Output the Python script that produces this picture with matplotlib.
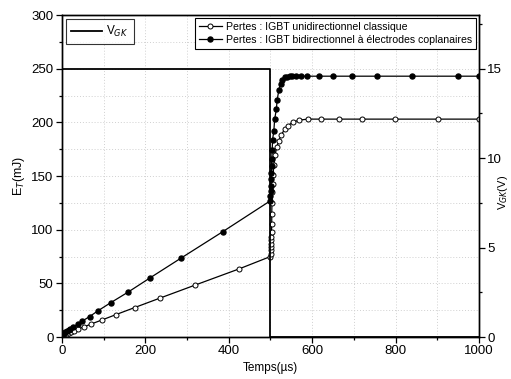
import matplotlib.pyplot as plt
from matplotlib.ticker import MultipleLocator

plt.rcParams['font.family'] = ['Liberation Sans', 'DejaVu Sans']

# gate voltage V_GK (V)
t_gk = [0, 0, 500, 500, 1000]
v_gk = [0, 15, 15, 0, 0]

# losses, classic unidirectional IGBT (open circles)
t_uni = [0, 2, 5, 8, 12, 16, 21, 28, 38, 52, 70, 96, 129, 174, 236, 318, 425, 500,
         500.5, 501, 501, 501.5, 502, 502, 502.5, 503, 503, 503.5, 504, 505, 506, 508,
         511, 515, 520, 526, 534, 542, 553, 568, 589, 621, 664, 720, 798, 901, 1000]
e_uni = [0, 1, 1.8, 2.5, 3.2, 4, 4.7, 5.9, 7.5, 9.3, 12.1, 15.9, 20.8, 27.4, 36.4, 48.2, 63.5, 75,
         77.8, 81, 84, 87, 90, 93.3, 98, 105.7, 115, 124.4, 135, 143, 151, 160,
         169.5, 177, 183, 188.5, 193.5, 197, 200, 202, 203, 203, 203, 203, 203, 203, 203]

# losses, bidirectional IGBT with coplanar electrodes (filled circles)
t_bi = [0, 1, 3, 5, 8, 12, 16, 20, 27, 38, 49, 66, 87, 117, 158, 212, 285, 385, 500,
        500, 500.5, 501, 501.5, 502, 502.5, 503, 504, 505, 508, 510, 514, 516, 520,
        524, 528, 534, 540, 546, 552, 560, 572, 588, 616, 650, 695, 756, 840, 950, 1000]
e_bi = [0, 1.5, 2.5, 3.5, 4.5, 5.8, 6.8, 7.8, 9.6, 11.8, 14.9, 19, 24.6, 32, 41.7, 55.3, 73.4, 98, 127,
        131, 136, 141, 147, 153, 159, 166, 174, 184, 192, 203, 212, 221, 230,
        236, 239.5, 242, 242.5, 243, 243, 243, 243, 243, 243, 243, 243, 243, 243, 243, 243]

fig = plt.figure(figsize=(5.11, 3.79), dpi=100)
ax = fig.add_axes([0.1213, 0.1108, 0.8161, 0.8496])
ax2 = ax.twinx()

ax.plot(t_uni, e_uni, color='black', lw=0.9, marker='o', ms=3.6, mfc='white', mec='black', mew=0.7,
        label='Pertes : IGBT unidirectionnel classique')
ax.plot(t_bi, e_bi, color='black', lw=0.9, marker='o', ms=3.6, mfc='black', mec='black',
        label='Pertes : IGBT bidirectionnel à électrodes coplanaires')
ax2.plot(t_gk, v_gk, color='black', lw=1.3, label='V$_{GK}$')

ax.set_xlim(0, 1000)
ax.set_ylim(0, 300)
ax2.set_ylim(0, 18)

ax.xaxis.set_major_locator(MultipleLocator(200))
ax.xaxis.set_minor_locator(MultipleLocator(100))
ax.yaxis.set_major_locator(MultipleLocator(50))
ax.yaxis.set_minor_locator(MultipleLocator(25))
ax2.yaxis.set_major_locator(MultipleLocator(5))
ax2.yaxis.set_minor_locator(MultipleLocator(2.5))

ax.grid(which='both', color='#d0d0d0', ls=(0, (1, 2)), lw=0.7)
ax.set_axisbelow(True)

for a in (ax, ax2):
    a.tick_params(which='both', direction='out', labelsize=9.5, width=0.9, pad=2)
    a.tick_params(which='major', length=4)
    a.tick_params(which='minor', length=2.5)
    for s in a.spines.values():
        s.set_linewidth(1.0)

ax.set_xlabel('Temps(µs)', fontsize=8.5, labelpad=3)
ax.set_ylabel('E$_T$(mJ)', fontsize=9, labelpad=3)
ax2.set_ylabel('V$_{GK}$(V)', fontsize=8)
ax2.yaxis.set_label_coords(1.04, 0.45)

leg1 = ax2.legend(loc='upper left', fontsize=8.5, frameon=True, fancybox=False,
                  edgecolor='black', borderaxespad=0.3, handlelength=2.6,
                  borderpad=0.45, handletextpad=0.4)
leg1.get_frame().set_linewidth(0.8)
leg2 = ax.legend(loc='upper right', fontsize=7.6, frameon=True, fancybox=False,
                 edgecolor='black', borderaxespad=0.3, handlelength=2.2,
                 labelspacing=0.3, borderpad=0.35, handletextpad=0.4)
leg2.get_frame().set_linewidth(0.8)
leg2.get_frame().set_alpha(1)

fig.savefig('out.png', dpi=100)
